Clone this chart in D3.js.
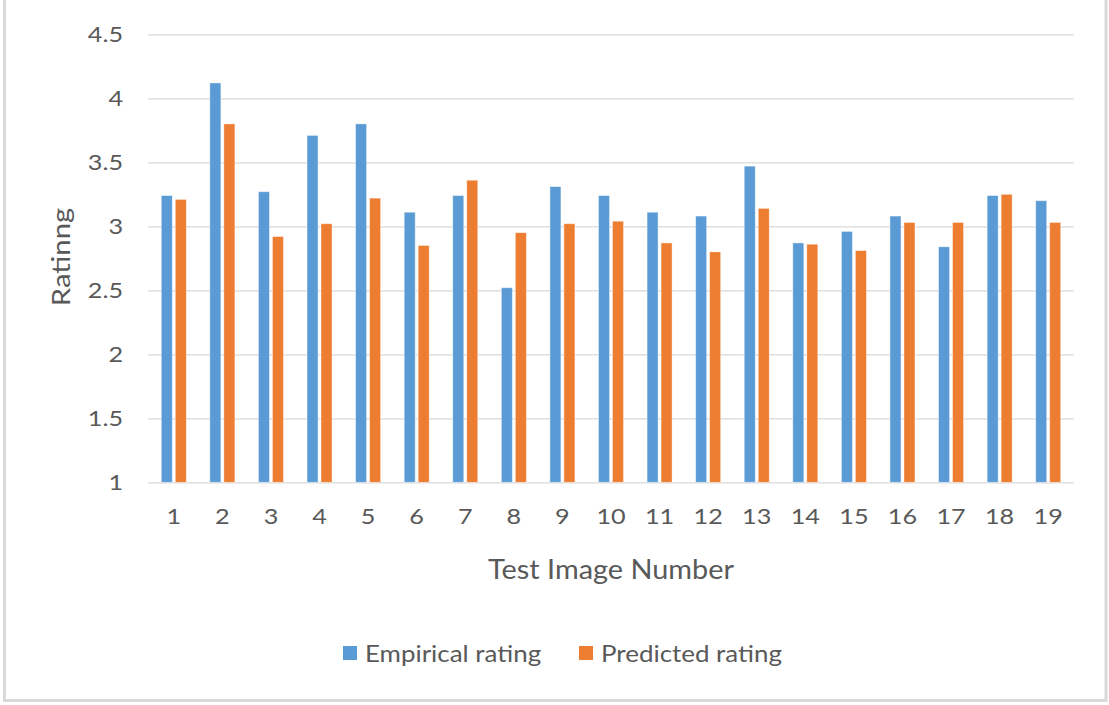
<!DOCTYPE html>
<html>
<head>
<meta charset="utf-8">
<script src="https://cdn.jsdelivr.net/npm/d3@7"></script>
<style>
  html, body { margin: 0; padding: 0; background: #fff; }
  svg { display: block; }
  text { font-family: Lato, "Open Sans", sans-serif; fill: #595959; }
</style>
</head>
<body>
<svg id="chart" width="1109" height="705"></svg>
<script>
// Test images and their ratings
const categories = ["1","2","3","4","5","6","7","8","9","10","11","12","13","14","15","16","17","18","19"];
const empirical = [3.24, 4.12, 3.27, 3.71, 3.80, 3.11, 3.24, 2.52, 3.31, 3.24, 3.11, 3.08, 3.47, 2.87, 2.96, 3.08, 2.84, 3.24, 3.20];
const predicted = [3.21, 3.80, 2.92, 3.02, 3.22, 2.85, 3.36, 2.95, 3.02, 3.04, 2.87, 2.80, 3.14, 2.86, 2.81, 3.03, 3.03, 3.25, 3.03];
const seriesNames = ["Empirical rating", "Predicted rating"];
const seriesColors = ["#5B9BD5", "#ED7D31"];
const yTicks = [1, 1.5, 2, 2.5, 3, 3.5, 4, 4.5];

const svg = d3.select("#chart");

// widen glyphs horizontally for a broader text look
function widen(sel, factor) {
  sel.each(function () {
    const w = this.getComputedTextLength();
    d3.select(this)
      .attr("textLength", w * factor)
      .attr("lengthAdjust", "spacingAndGlyphs");
  });
}

// outer chart frame
svg.append("rect")
  .attr("x", 4.5).attr("y", -1.5)
  .attr("width", 1101.5).attr("height", 702)
  .attr("fill", "none").attr("stroke", "#d9d9d9").attr("stroke-width", 3);

const plot = { left: 148, right: 1074, top: 34.3, bottom: 482.3 };

const y = d3.scaleLinear().domain([1, 4.5]).range([plot.bottom, plot.top]);
const x = d3.scaleBand().domain(categories).range([149.5, 1072.5]).paddingInner(0).paddingOuter(0);
const xs = d3.scaleBand().domain(seriesNames).range([-12.5, 12.5]).paddingInner(0.214).paddingOuter(0);

// horizontal gridlines with tick labels
const yAxis = d3.axisLeft(y)
  .tickValues(yTicks)
  .tickSize(-(plot.right - plot.left))
  .tickPadding(25)
  .tickFormat(d => String(d));

const gy = svg.append("g")
  .attr("transform", `translate(${plot.left},0)`)
  .call(yAxis);
gy.select(".domain").remove();
gy.selectAll(".tick line").attr("stroke", "#d9d9d9").attr("stroke-width", 1.3);
gy.selectAll(".tick text")
  .attr("fill", "#595959")
  .style("font-size", "21px")
  .style("font-family", "Lato, 'Open Sans', sans-serif")
  .call(widen, 1.2);

// bars
const rows = categories.map((c, i) => ({ c, vals: [empirical[i], predicted[i]] }));
const groups = svg.append("g").selectAll("g")
  .data(rows).join("g")
  .attr("transform", d => `translate(${x(d.c) + x.bandwidth() / 2},0)`);

groups.selectAll("rect")
  .data(d => d.vals.map((v, k) => ({ v, k })))
  .join("rect")
  .attr("x", d => xs(seriesNames[d.k]))
  .attr("width", xs.bandwidth())
  .attr("y", d => y(d.v))
  .attr("height", d => y(1) - y(d.v))
  .attr("fill", d => seriesColors[d.k])
  .attr("stroke", "#ffffff")
  .attr("stroke-opacity", 0.5)
  .attr("stroke-width", 0.8);

// category axis labels
const xAxis = d3.axisBottom(x).tickSize(0).tickPadding(27);
const gx = svg.append("g")
  .attr("transform", `translate(0,${plot.bottom})`)
  .call(xAxis);
gx.select(".domain").remove();
gx.selectAll(".tick text")
  .attr("fill", "#595959")
  .style("font-size", "21px")
  .style("font-family", "Lato, 'Open Sans', sans-serif")
  .call(widen, 1.2);

// axis titles
svg.append("text")
  .attr("x", 611)
  .attr("y", 569)
  .attr("text-anchor", "middle")
  .attr("dominant-baseline", "central")
  .style("font-size", "26px")
  .text("Test Image Number")
  .call(widen, 1.11);

svg.append("text")
  .attr("transform", "translate(60,257) rotate(-90)")
  .attr("text-anchor", "middle")
  .attr("dominant-baseline", "central")
  .style("font-size", "25px")
  .text("Ratinng")
  .call(widen, 1.17);

// legend
const legend = svg.append("g");
const legendItems = [
  { name: seriesNames[0], color: seriesColors[0], sx: 343 },
  { name: seriesNames[1], color: seriesColors[1], sx: 579 }
];
legendItems.forEach(it => {
  legend.append("rect")
    .attr("x", it.sx).attr("y", 646)
    .attr("width", 14).attr("height", 14)
    .attr("fill", it.color);
  legend.append("text")
    .attr("x", it.sx + 22).attr("y", 652)
    .attr("dominant-baseline", "central")
    .style("font-size", "24px")
    .text(it.name)
    .call(widen, 1.08);
});
</script>
</body>
</html>
